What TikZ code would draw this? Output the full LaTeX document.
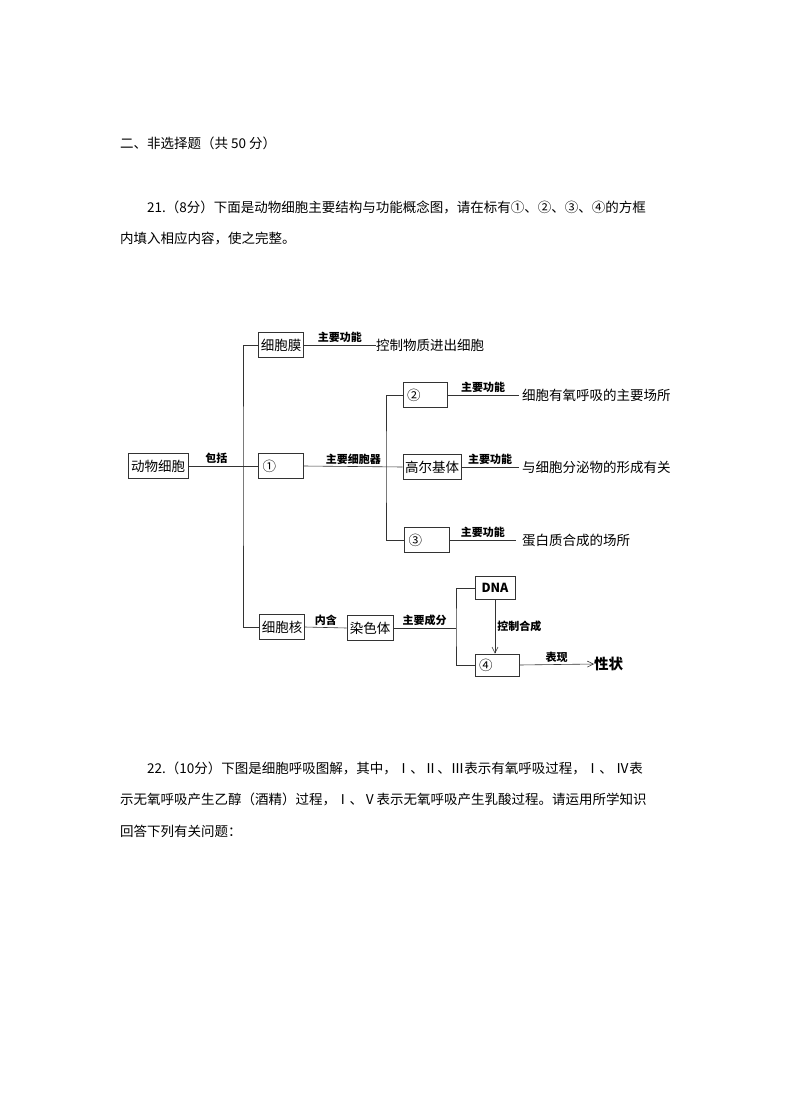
\documentclass[tikz,border=0pt]{standalone}
\usepackage{fontspec}
\setmainfont{Noto Sans CJK SC}
\usetikzlibrary{arrows.meta, positioning, calc}

\begin{document}
\begin{tikzpicture}[
  x=1pt, y=-1pt,
  txtline/.style={anchor=west, inner sep=0pt, font=\fontsize{13.5}{16}\selectfont},
  cbox/.style={rectangle, draw=black!80, semithick, minimum height=25pt,
    inner sep=2pt, font=\fontsize{13.5}{16}\selectfont},
  numbox/.style={cbox, text width=#1, inner xsep=4pt, align=left},
  fntext/.style={anchor=west, inner sep=0pt, font=\fontsize{13.5}{16}\selectfont},
  lbl/.style={font=\fontsize{11}{13}\selectfont\bfseries, inner sep=2pt},
  conn/.style={draw=black!80, semithick},
  arr/.style={conn, -{Straight Barb[length=6pt, width=6pt]}}
]
  \useasboundingbox (0,0) rectangle (790,1119);

  % question text
  \node[txtline] (head) at (120,143) {二、非选择题（共 50 分）};
  \node[txtline] (q21a) at (147,207) {21.（8分）下面是动物细胞主要结构与功能概念图，请在标有①、②、③、④的方框};
  \node[txtline] (q21b) at (120,238) {内填入相应内容，使之完整。};

  % level 1 and 2
  \node[cbox, minimum width=60pt] (cell) at (158,466) {动物细胞};
  \node[cbox, minimum width=45pt] (memb) at (281,345) {细胞膜};
  \node[numbox=37pt] (org) at (281,466) {①};
  \node[cbox, minimum width=45pt] (nucl) at (282,627) {细胞核};
  \coordinate (trunk) at (243,466);

  \draw[conn] (cell.east) -- node[lbl, above, pos=0.4] {包括} (org.west);
  \draw[conn] (memb.west) -| (trunk) |- (nucl.west);

  % membrane
  \node[fntext] (memfn) at (376,345) {控制物质进出细胞};
  \draw[conn] (memb.east) -- node[lbl, above] {主要功能} (memfn.west);

  % organelles
  \node[numbox=36pt] (mito) at (425,395) {②};
  \node[cbox, minimum width=55pt] (golgi) at (432,467) {高尔基体};
  \node[numbox=37pt] (ribo) at (427,540) {③};
  \coordinate (branch) at (386,466);

  \draw[conn] (org.east) -- node[lbl, above] {主要细胞器} (golgi.west);
  \draw[conn] (mito.west) -| (branch) |- (ribo.west);

  \node[fntext] (mitofn) at (522,395) {细胞有氧呼吸的主要场所};
  \node[fntext] (golgifn) at (522,467) {与细胞分泌物的形成有关};
  \node[fntext] (ribofn) at (522,540) {蛋白质合成的场所};

  \draw[conn] (mito.east) -- node[lbl, above] {主要功能} ([xshift=-3pt]mitofn.west);
  \draw[conn] (golgi.east) -- node[lbl, above] {主要功能} ([xshift=-3pt]golgifn.west);
  \draw[conn] (ribo.east) -- node[lbl, above] {主要功能} ([xshift=-6pt]ribofn.west);

  % nucleus chain
  \node[cbox, minimum width=46pt] (chrom) at (370,628) {染色体};
  \draw[conn] (nucl.east) -- node[lbl, above] {内含} (chrom.west);

  \node[cbox, minimum width=40pt, minimum height=23pt,
    font=\fontsize{12.5}{15}\selectfont\bfseries] (dna) at (495,588) {DNA};
  \node[numbox=36pt, minimum height=22pt] (prot) at (497,665) {④};
  \coordinate (split) at (456,628);

  \draw[conn] (chrom.east) -- node[lbl, above] {主要成分} (split);
  \draw[conn] (dna.west) -| (split) |- (prot.west);
  \draw[arr] (dna.south) -- node[lbl, right] {控制合成} (dna.south |- prot.north);

  \node[fntext, font=\fontsize{14.5}{17}\selectfont\bfseries] (trait) at (594,664) {性状};
  \draw[arr] (prot.east) -- node[lbl, above] {表现} (trait.west);

  % next question
  \node[txtline] (q22a) at (147,768) {22.（10分）下图是细胞呼吸图解，其中，Ⅰ、Ⅱ、Ⅲ表示有氧呼吸过程，Ⅰ、 Ⅳ表};
  \node[txtline] (q22b) at (120,799) {示无氧呼吸产生乙醇（酒精）过程，Ⅰ、Ⅴ表示无氧呼吸产生乳酸过程。请运用所学知识};
  \node[txtline] (q22c) at (120,831) {回答下列有关问题：};
\end{tikzpicture}
\end{document}
